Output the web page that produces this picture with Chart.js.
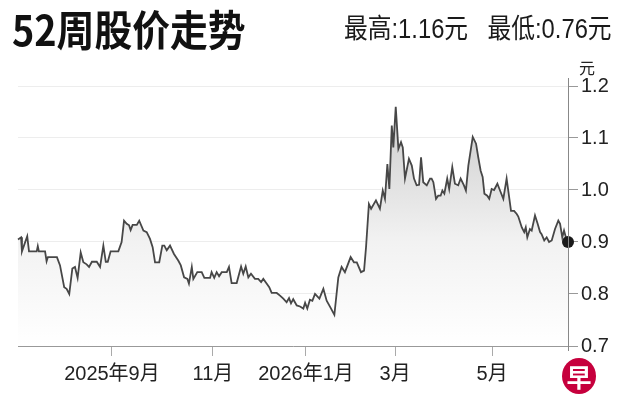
<!DOCTYPE html>
<html>
<head>
<meta charset="utf-8">
<script src="https://cdn.jsdelivr.net/npm/chart.js@4.4.1/dist/chart.umd.min.js"></script>
<style>
html, body { margin: 0; padding: 0; background: #fff; }
#wrap { position: relative; width: 626px; height: 418px; overflow: hidden; }
#c { position: absolute; left: 0; top: 0; }
.title { position: absolute; left: 12px; top: 3px; font: bold 42px "Noto Sans CJK SC", sans-serif; color: #111;
  transform: scaleX(0.9); transform-origin: left top; white-space: nowrap; line-height: 1.2; }
.stats { position: absolute; left: 344px; top: 13px; font: 27px "Liberation Sans", "Noto Sans CJK SC", sans-serif;
  color: #1a1a1a; white-space: nowrap; line-height: 1.2; transform: scaleX(0.88); transform-origin: left top; }
.stats span { margin-left: 22px; }
.unit { position: absolute; left: 579px; top: 55px; font: 16px "Noto Sans CJK SC", sans-serif; color: #222; }
.logo { position: absolute; left: 562px; top: 358px; width: 34px; height: 36px; border-radius: 50%; background: #c6003d;
  color: #fff; font: bold 25px "Noto Sans CJK SC", sans-serif; text-align: center; line-height: 36px; }
</style>
</head>
<body>
<div id="wrap">
  <canvas id="c" width="626" height="418"></canvas>
  <div class="title">52周股价走势</div>
  <div class="stats">最高:1.16元<span>最低:0.76元</span></div>
  <div class="unit">元</div>
  <div class="logo">早</div>
</div>
<script>
// 交易日序号 (0 = 52周前) 与收盘价
const days = [
  0, 1.4, 1.8, 4.2, 5, 8.5, 9, 9.5, 12.3, 13, 13.6, 17.7, 19.1, 21, 22.1, 23.3, 24.7, 25.9, 27.1, 28.5,
  29.7, 31.2, 32.3, 33.6, 35.8, 37.3, 38.8, 39.9, 40.8, 42.1, 45.6, 47.1, 48.2, 49.4, 50.5, 51.2, 52.1, 54, 55.1, 57,
  58.5, 60, 61.2, 62.3, 64.2, 65.6, 66.5, 67.6, 69.1, 70.9, 72.9, 74, 75.5, 77, 77.7, 79, 79.7, 81.5, 83.5, 84.7,
  87.3, 88, 89.2, 90.3, 91.4, 92.6, 94.9, 95.9, 97.1, 99.4, 101.4, 102.4, 103.5, 104.7, 105.9, 107.7, 109.2, 110.5, 111.5, 113,
  114.2, 115.3, 117.6, 119.1, 120.6, 122.1, 123.2, 124.1, 125.1, 126.7, 128.2, 129.7, 130.5, 131.5, 132.7, 133.8, 135, 137, 138.8, 140.3,
  142.3, 143.8, 145.6, 147.1, 148.6, 151.2, 152.7, 154, 155.9, 157.3, 158.2, 159.5, 160.5, 162.7, 164.5, 165.8, 166.8, 167.9, 168.8, 169.9,
  170.6, 171.7, 172.9, 174.1, 174.9, 175.9, 177.7, 179, 180, 181.2, 182.3, 183.2, 184.2, 185.8, 187.3, 188, 188.8, 190, 191, 192.1,
  192.9, 193.8, 195.1, 196, 197.4, 198.6, 200.1, 201.2, 202.7, 203.6, 204.7, 206.7, 208.2, 209.2, 210.3, 211.2, 212, 213.3, 214.2, 215.3,
  216.4, 217.9, 219.1, 220.6, 222.1, 224.1, 225.5, 226.7, 227.4, 229, 230.1, 230.8, 231.5, 232.7, 233.5, 235, 236.2, 237.3, 238, 239.2,
  240.3, 241.4, 242.6, 244.1, 245.6, 246.4, 247.4, 248.2, 249.4, 250
];
const prices = [
  0.905, 0.909, 0.882, 0.911, 0.882, 0.882, 0.892, 0.882, 0.882, 0.863, 0.871, 0.871, 0.855, 0.813, 0.81, 0.80, 0.849, 0.852, 0.831, 0.88,
  0.861, 0.857, 0.852, 0.862, 0.862, 0.852, 0.893, 0.862, 0.862, 0.882, 0.882, 0.90, 0.941, 0.935, 0.932, 0.923, 0.933, 0.933, 0.941, 0.922,
  0.919, 0.906, 0.89, 0.861, 0.861, 0.893, 0.893, 0.884, 0.893, 0.877, 0.864, 0.855, 0.832, 0.829, 0.82, 0.852, 0.829, 0.842, 0.842, 0.831,
  0.831, 0.842, 0.831, 0.842, 0.834, 0.842, 0.842, 0.852, 0.821, 0.821, 0.853, 0.839, 0.853, 0.832, 0.839, 0.829, 0.829, 0.823, 0.829, 0.82,
  0.813, 0.802, 0.802, 0.797, 0.791, 0.784, 0.792, 0.782, 0.79, 0.778, 0.776, 0.772, 0.783, 0.772, 0.789, 0.787, 0.80, 0.791, 0.81, 0.787,
  0.772, 0.76, 0.832, 0.852, 0.842, 0.871, 0.861, 0.861, 0.842, 0.845, 0.89, 0.973, 0.964, 0.98, 0.964, 0.999, 0.983, 1.05, 1.002, 1.124,
  1.082, 1.16, 1.079, 1.092, 1.082, 1.022, 1.06, 1.047, 1.022, 1.009, 1.01, 1.063, 1.015, 1.009, 1.022, 1.022, 1.015, 0.983, 0.989, 0.989,
  0.999, 0.993, 1.022, 1.002, 1.044, 1.012, 1.009, 1.022, 1.009, 0.999, 1.047, 1.102, 1.089, 1.063, 1.037, 1.025, 0.993, 0.989, 0.983, 1.002,
  1.0, 1.012, 0.999, 0.983, 1.022, 0.96, 0.96, 0.954, 0.949, 0.928, 0.919, 0.928, 0.909, 0.925, 0.922, 0.951, 0.935, 0.919, 0.915, 0.903,
  0.909, 0.90, 0.903, 0.925, 0.941, 0.935, 0.909, 0.922, 0.903, 0.90
];
// 月份刻度所在的交易日序号
const monthTicks = [42.7, 88.6, 130.9, 171.4, 215.5];
const monthLabels = ['2025年9月', '11月', '2026年1月', '3月', '5月'];
const yTicks = [0.7, 0.8, 0.9, 1.0, 1.1, 1.2];

const tickFont = { family: '"Liberation Sans", "Noto Sans CJK SC", sans-serif', size: 20 };

// 把右侧坐标轴线稍微延长出绘图区
const axisExtend = {
    id: 'axisExtend',
    afterDraw(chart) {
        const { ctx, chartArea } = chart;
        ctx.save();
        ctx.strokeStyle = '#888';
        ctx.lineWidth = 1;
        ctx.beginPath();
        ctx.moveTo(chartArea.right + 0.5, chartArea.top - 8);
        ctx.lineTo(chartArea.right + 0.5, chartArea.bottom + 5);
        ctx.stroke();
        ctx.restore();
    }
};

const ctx = document.getElementById('c').getContext('2d');
new Chart(ctx, {
    type: 'line',
    data: {
        datasets: [{
            data: days.map((d, i) => ({ x: d, y: prices[i] })),
            borderColor: '#474747',
            borderWidth: 1.8,
            tension: 0,
            fill: 'start',
            backgroundColor: (c) => {
                const area = c.chart.chartArea;
                if (!area) return 'rgba(0,0,0,0.1)';
                const g = c.chart.ctx.createLinearGradient(0, area.top, 0, area.bottom);
                g.addColorStop(0, '#c6c6c6');
                g.addColorStop(0.6, '#f2f2f2');
                g.addColorStop(1, '#ffffff');
                return g;
            },
            pointRadius: (c) => c.dataIndex === prices.length - 1 ? 6 : 0,
            pointBackgroundColor: '#1a1a1a',
            pointBorderWidth: 0,
            pointHoverRadius: 0,
            clip: false
        }]
    },
    options: {
        responsive: false,
        animation: false,
        events: [],
        layout: { padding: { left: 18, top: 86, right: 0, bottom: 0 } },
        plugins: { legend: { display: false }, tooltip: { enabled: false } },
        scales: {
            x: {
                type: 'linear',
                min: 0,
                max: 250,
                afterBuildTicks: (scale) => { scale.ticks = monthTicks.map(v => ({ value: v })); },
                afterFit: (scale) => { scale.height = 72; },
                grid: { drawOnChartArea: false, drawTicks: true, tickLength: 10, tickColor: '#aaa' },
                border: { color: '#999' },
                ticks: {
                    autoSkip: false,
                    maxRotation: 0,
                    padding: 6,
                    color: '#222',
                    font: tickFont,
                    callback: (v, i) => monthLabels[i]
                }
            },
            y: {
                position: 'right',
                min: 0.7,
                max: 1.2,
                afterBuildTicks: (scale) => { scale.ticks = yTicks.map(v => ({ value: v })); },
                afterFit: (scale) => { scale.width = 58; },
                grid: { color: '#ededed', tickLength: 10, tickColor: '#999' },
                border: { color: '#888' },
                ticks: {
                    padding: 3,
                    color: '#222',
                    font: tickFont,
                    callback: (v) => v.toFixed(1)
                }
            }
        }
    },
    plugins: [axisExtend]
});
</script>
</body>
</html>
